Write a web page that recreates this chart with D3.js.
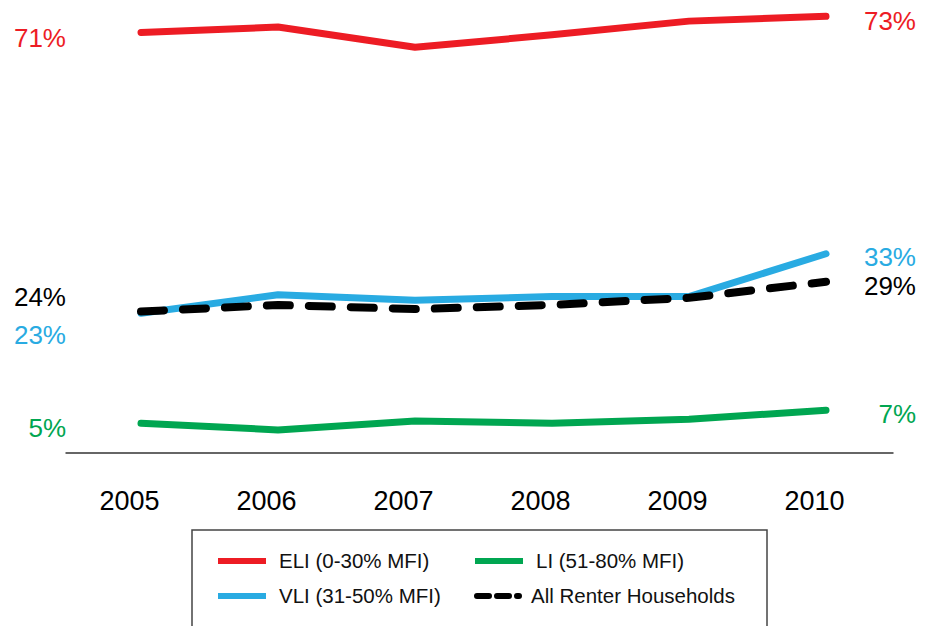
<!DOCTYPE html>
<html>
<head>
<meta charset="utf-8">
<script src="https://cdn.jsdelivr.net/npm/d3@7/dist/d3.min.js"></script>
<style>
  html, body { margin: 0; padding: 0; background: #fff; }
  svg { display: block; font-family: "Liberation Sans", Arial, sans-serif; }
</style>
</head>
<body>
<svg id="chart" width="932" height="626"></svg>
<script>
// Share of renter households with housing cost burden, by income group
const years = [2005, 2006, 2007, 2008, 2009, 2010];
const eliValues = [70.6, 71.5, 68.1, 70.2, 72.5, 73.3];
const vliValues = [23.4, 26.5, 25.6, 26.2, 26.2, 33.4];
const liValues = [4.9, 3.8, 5.3, 4.9, 5.6, 7.1];
const allValues = [23.7, 24.8, 24.1, 24.8, 26.0, 28.7];
const seriesNames = ["ELI (0-30% MFI)", "VLI (31-50% MFI)", "LI (51-80% MFI)", "All Renter Households"];

const series = [
  { name: seriesNames[0], values: eliValues, color: "#ED1C24", dashed: false, startDy: 5,  endDy: 4 },
  { name: seriesNames[1], values: vliValues, color: "#29ABE2", dashed: false, startDy: 21, endDy: 3 },
  { name: seriesNames[2], values: liValues,  color: "#00A651", dashed: false, startDy: 4,  endDy: 3 },
  { name: seriesNames[3], values: allValues, color: "#000000", dashed: true,  startDy: -15, endDy: 4 }
];

const svg = d3.select("#chart");

const x = d3.scaleLinear().domain([2005, 2010]).range([141, 826]);
const y = d3.scaleLinear().domain([0, 75]).range([452.5, 6.25]);

// Baseline axis with year labels
const axisScale = x.copy().domain([x.invert(65), x.invert(893)]).range([65, 893]);
const axis = svg.append("g")
  .attr("transform", `translate(0,${y(0)})`)
  .call(d3.axisBottom(axisScale)
    .tickValues(years)
    .tickSize(0)
    .tickPadding(38)
    .tickFormat(d3.format("d")));
axis.select(".domain").attr("stroke", "#333").attr("stroke-width", 1.5);
axis.selectAll("text")
  .attr("font-size", 27)
  .attr("dx", -12)
  .attr("font-family", "Liberation Sans, Arial, sans-serif")
  .attr("fill", "#000");

// Lines
const line = d3.line()
  .x((d, i) => x(years[i]))
  .y(d => y(d));

const drawOrder = [series[0], series[2], series[1], series[3]];
svg.append("g").selectAll("path")
  .data(drawOrder)
  .join("path")
  .attr("d", d => line(d.values))
  .attr("fill", "none")
  .attr("stroke", d => d.color)
  .attr("stroke-width", d => d.dashed ? 8 : 7)
  .attr("stroke-linecap", "round")
  .attr("stroke-linejoin", "round")
  .attr("stroke-dasharray", d => d.dashed ? "23,19" : null);

// Start / end value labels
const fmt = v => Math.round(v) + "%";
const labels = svg.append("g").attr("font-size", 26);
series.forEach(s => {
  const first = s.values[0];
  const last = s.values[s.values.length - 1];
  labels.append("text")
    .attr("x", 66)
    .attr("y", y(first) + s.startDy)
    .attr("dy", "0.36em")
    .attr("text-anchor", "end")
    .attr("fill", s.color)
    .text(fmt(first));
  labels.append("text")
    .attr("x", 916)
    .attr("y", y(last) + s.endDy)
    .attr("dy", "0.36em")
    .attr("text-anchor", "end")
    .attr("fill", s.color)
    .text(fmt(last));
});

// Legend
const legend = svg.append("g");
legend.append("rect")
  .attr("x", 192).attr("y", 530)
  .attr("width", 575).attr("height", 120)
  .attr("fill", "#fff")
  .attr("stroke", "#444")
  .attr("stroke-width", 1.5);

const legendItems = [
  { s: series[0], col: 0, row: 0 },
  { s: series[2], col: 1, row: 0 },
  { s: series[1], col: 0, row: 1 },
  { s: series[3], col: 1, row: 1 }
];
const colX = [218, 475];
const rowY = [561, 596];
legendItems.forEach(item => {
  const lx = colX[item.col], ly = rowY[item.row];
  const g = legend.append("g");
  if (item.s.dashed) {
    g.append("line")
      .attr("x1", lx + 2).attr("x2", lx + 44)
      .attr("y1", ly).attr("y2", ly)
      .attr("stroke", item.s.color)
      .attr("stroke-width", 6)
      .attr("stroke-linecap", "round")
      .attr("stroke-dasharray", "12,8");
    g.append("text")
      .attr("x", lx + 56).attr("y", ly)
      .attr("dy", "0.36em")
      .attr("font-size", 20.5)
      .attr("fill", "#111")
      .text(item.s.name);
  } else {
    g.append("line")
      .attr("x1", lx).attr("x2", lx + 48)
      .attr("y1", ly).attr("y2", ly)
      .attr("stroke", item.s.color)
      .attr("stroke-width", 6);
    g.append("text")
      .attr("x", lx + 61).attr("y", ly)
      .attr("dy", "0.36em")
      .attr("font-size", 20.5)
      .attr("fill", "#111")
      .text(item.s.name);
  }
});
</script>
</body>
</html>
